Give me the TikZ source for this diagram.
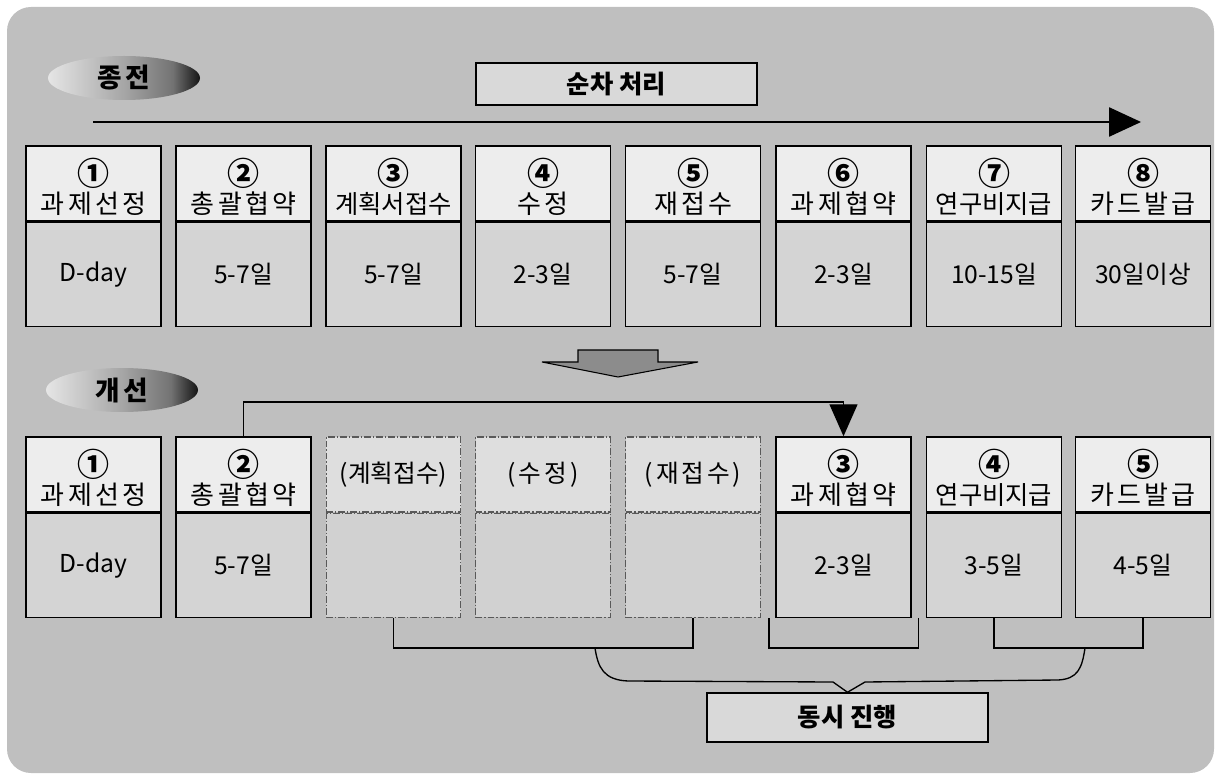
\documentclass[tikz,border=0pt]{standalone}
\usepackage{fontspec}
\usepackage{tikz}
\usetikzlibrary{positioning}
\usetikzlibrary{arrows.meta}
\usetikzlibrary{shapes.geometric}
\setmainfont{Noto Sans CJK KR}
\newfontfamily\krsp[LetterSpace=12]{Noto Sans CJK KR}
\newcommand{\cnum}{\fontsize{24}{24}\selectfont\bfseries\rule{0pt}{25pt}}
\newcommand{\lng}{\fontsize{19}{21}\selectfont}
\pgfdeclarehorizontalshading{pillshade}{100bp}{color(0bp)=(black!10); color(25bp)=(black!10); color(50bp)=(black!35); color(66bp)=(black!55); color(75bp)=(black!92); color(100bp)=(black!92)}

\tikzset{
  hdbox/.style={draw,line width=1.1pt,fill=black!7,minimum width=101pt,minimum height=56.25pt,inner sep=0pt,align=center,font=\fontsize{19.5}{21}\selectfont},
  bdbox/.style={draw,line width=1.1pt,fill=black!17,minimum width=101pt,minimum height=78pt,inner sep=0pt,anchor=north,font=\fontsize{18.5}{24}\selectfont},
  dshd/.style={hdbox,draw=black!65,line width=0.9pt,dash pattern=on 5pt off 1.5pt on 1pt off 1.5pt,fill=black!13,font=\fontsize{18.5}{24}\selectfont},
  dsbd/.style={bdbox,draw=black!65,line width=0.9pt,dash pattern=on 5pt off 1.5pt on 1pt off 1.5pt,fill=black!18},
  pill/.style={ellipse,minimum width=114pt,minimum height=33pt,inner sep=0pt,shading=pillshade,font=\fontsize{20}{24}\selectfont\bfseries},
  tagbox/.style={draw,line width=1.1pt,fill=black!15,minimum width=210.75pt,minimum height=31.5pt,inner sep=0pt,font=\fontsize{19}{22}\selectfont\bfseries},
  brk/.style={line width=1.1pt},
}

\begin{document}
\begin{tikzpicture}[x=0.75pt,y=0.75pt,yscale=-1,xscale=1]
\useasboundingbox (0,0) rectangle (1220,780);

%Shape: Rectangle [background]
\draw[draw=none,fill=black!25,rounded corners=18pt] (7,7) rectangle (1214,773);

% Text Node
\node[pill] (oldtag) at (124,78) {\krsp 종전};
% Text Node
\node[tagbox] (seqtag) at (616.5,84) {순차 처리};

%Straight Lines [sequence arrow]
\coordinate (seqS) at (93,122);
\coordinate (seqE) at (1141,122);
\draw[line width=1pt,-{Triangle[length=24pt,width=22pt]}] (seqS) -- (seqE);

% Text Node
\node[hdbox] (a1h) at (93.5,183.5) {{\cnum ①}\\{\krsp 과제선정}};
\node[bdbox] (a1b) at (a1h.south) {D-day};
% Text Node
\node[hdbox] (a2h) at (243.5,183.5) {{\cnum ②}\\{\krsp 총괄협약}};
\node[bdbox] (a2b) at (a2h.south) {5-7일};
% Text Node
\node[hdbox] (a3h) at (393.5,183.5) {{\cnum ③}\\{\lng 계획서접수}};
\node[bdbox] (a3b) at (a3h.south) {5-7일};
% Text Node
\node[hdbox] (a4h) at (543,183.5) {{\cnum ④}\\{\krsp 수정}};
\node[bdbox] (a4b) at (a4h.south) {2-3일};
% Text Node
\node[hdbox] (a5h) at (693,183.5) {{\cnum ⑤}\\{\krsp 재접수}};
\node[bdbox] (a5b) at (a5h.south) {5-7일};
% Text Node
\node[hdbox] (a6h) at (843.5,183.5) {{\cnum ⑥}\\{\krsp 과제협약}};
\node[bdbox] (a6b) at (a6h.south) {2-3일};
% Text Node
\node[hdbox] (a7h) at (994,183.5) {{\cnum ⑦}\\{\lng 연구비지급}};
\node[bdbox] (a7b) at (a7h.south) {10-15일};
% Text Node
\node[hdbox] (a8h) at (1143,183.5) {{\cnum ⑧}\\{\krsp 카드발급}};
\node[bdbox] (a8b) at (a8h.south) {30일이상};

%Shape: Block Arrow [down]
\draw[fill=black!45,line width=0.8pt] (578,350) -- (658,350) -- (658,362) -- (698,362) -- (618,377) -- (542,362) -- (578,362) -- cycle;

% Text Node
\node[pill] (newtag) at (122,390) {\krsp 개선};

% Text Node
\node[hdbox] (b1h) at (93.5,474.5) {{\cnum ①}\\{\krsp 과제선정}};
\node[bdbox] (b1b) at (b1h.south) {D-day};
% Text Node
\node[hdbox] (b2h) at (243.5,474.5) {{\cnum ②}\\{\krsp 총괄협약}};
\node[bdbox] (b2b) at (b2h.south) {5-7일};
% Text Node
\node[dshd] (d1h) at (393.5,474.5) {(계획접수)};
\node[dsbd] (d1b) at (d1h.south) {};
% Text Node
\node[dshd] (d2h) at (543,474.5) {\krsp (수정)};
\node[dsbd] (d2b) at (d2h.south) {};
% Text Node
\node[dshd] (d3h) at (693,474.5) {\krsp (재접수)};
\node[dsbd] (d3b) at (d3h.south) {};
% Text Node
\node[hdbox] (b3h) at (843.5,474.5) {{\cnum ③}\\{\krsp 과제협약}};
\node[bdbox] (b3b) at (b3h.south) {2-3일};
% Text Node
\node[hdbox] (b4h) at (994,474.5) {{\cnum ④}\\{\lng 연구비지급}};
\node[bdbox] (b4b) at (b4h.south) {3-5일};
% Text Node
\node[hdbox] (b5h) at (1143,474.5) {{\cnum ⑤}\\{\krsp 카드발급}};
\node[bdbox] (b5b) at (b5h.south) {4-5일};

%Straight Lines [skip arrow]
\coordinate (jn) at (843.5,402);
\draw[line width=1pt,-{Triangle[length=24pt,width=21pt]}] (b2h.north) |- (jn) -- (b3h.north);

%Straight Lines [brackets]
\coordinate (brkA) at (543,648);
\coordinate (brkB) at (843.5,648);
\coordinate (brkC) at (1068.5,648);
\draw[brk] (d1b.south) |- (brkA) -| (d3b.south);
\draw[brk] ([xshift=-5pt]b3b.south west) |- (brkB) -| ([xshift=5pt]b3b.south east);
\draw[brk] (b4b.south) |- (brkC) -| (b5b.south);

% Text Node
\node[tagbox,minimum height=36.75pt] (simtag) at (847.5,717.5) {동시 진행};

%Curve Lines [brace]
\coordinate (brL) at (595,648);
\coordinate (brR) at (1085,648);
\draw[line width=1pt] (brL) .. controls (598,668) and (604,680) .. (628,681) -- (833,682) -- (simtag.north) -- (865,682) -- (1058,680) .. controls (1078,679) and (1082,668) .. (brR);

\end{tikzpicture}
\end{document}
